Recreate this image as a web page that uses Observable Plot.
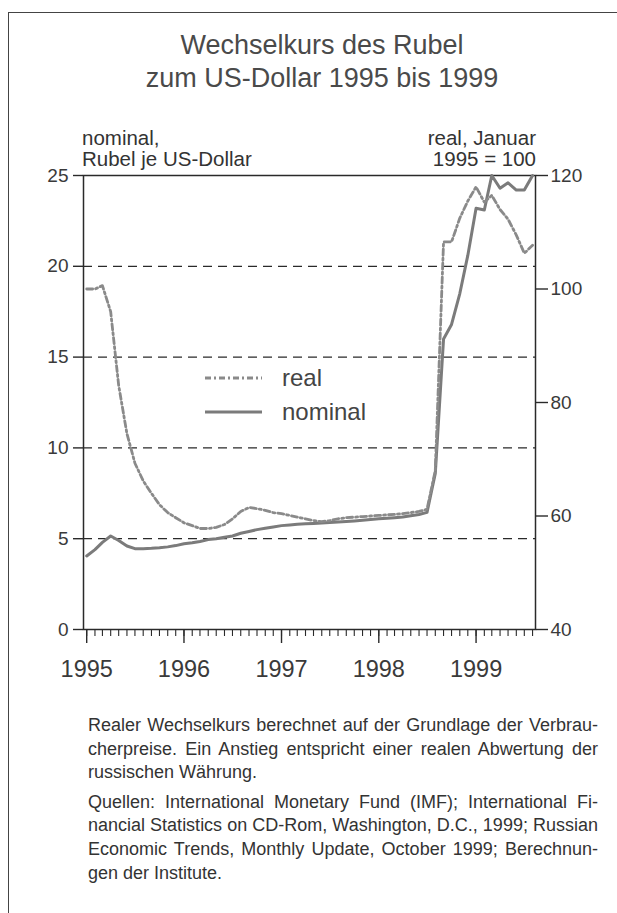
<!DOCTYPE html>
<html>
<head>
<meta charset="utf-8">
<script src="https://cdn.jsdelivr.net/npm/d3@7"></script>
<script src="https://cdn.jsdelivr.net/npm/@observablehq/plot@0.6"></script>
<style>
  html, body { margin: 0; padding: 0; background: #fff; }
  body { width: 617px; height: 913px; position: relative; overflow: hidden;
         font-family: "Liberation Sans", Arial, Helvetica, sans-serif; color: #3a3a3a; }
  .frame { position: absolute; left: 8px; top: 12px; width: 620px; height: 900px;
           border-left: 1.5px solid #444; border-top: 1.5px solid #444; }
  .title { position: absolute; left: 0px; width: 644px; top: 29px; text-align: center;
           font-size: 27px; line-height: 33px; color: #4a4a4a; }
  .ytitle { position: absolute; top: 127px; font-size: 20.5px; line-height: 21px; color: #333; white-space: nowrap; }
  #chart { position: absolute; left: 0; top: 165px; }
  .legend { position: absolute; left: 205px; font-size: 24px; color: #444; }
  .legend .row { position: absolute; left: 0; height: 30px; width: 220px; }
  .legend svg { position: absolute; left: 0; top: 0; }
  .legend span { position: absolute; left: 77px; top: 1px; line-height: 28px; white-space: nowrap; }
  .caption { position: absolute; left: 88px; width: 510px; font-size: 18px; line-height: 23.6px; color: #333; }
  .caption div { white-space: nowrap; }
</style>
</head>
<body>
<div class="frame"></div>
<div class="title">Wechselkurs des Rubel<br>zum US-Dollar 1995 bis 1999</div>
<div class="ytitle" style="left:82px;">nominal,<br>Rubel je US-Dollar</div>
<div class="ytitle" style="right:81px; text-align:right;">real, Januar<br>1995 = 100</div>
<div id="chart"></div>
<div class="legend" style="top:363px;">
  <div class="row" style="top:0;"><svg width="60" height="30"><line x1="0" x2="57" y1="15" y2="15" stroke="#8a8a8a" stroke-width="2.8" stroke-dasharray="6,3,2,3"/></svg><span>real</span></div>
  <div class="row" style="top:34px;"><svg width="60" height="30"><line x1="0" x2="57" y1="15" y2="15" stroke="#7b7b7b" stroke-width="3"/></svg><span>nominal</span></div>
</div>
<div class="caption" style="top:714px;">
  <div class="j">Realer Wechselkurs berechnet auf der Grundlage der Verbrau-</div>
  <div class="j">cherpreise. Ein Anstieg entspricht einer realen Abwertung der</div>
  <div>russischen Währung.</div>
  <div style="height:6px"></div>
  <div class="j">Quellen: International Monetary Fund (IMF); International Fi-</div>
  <div class="j">nancial Statistics on CD-Rom, Washington, D.C., 1999; Russian</div>
  <div class="j">Economic Trends, Monthly Update, October 1999; Berechnun-</div>
  <div>gen der Institute.</div>
</div>
<script>
// Monthly observations, January 1995 – August 1999
const nominal = [
  4.05, 4.40, 4.80, 5.15, 4.90, 4.60, 4.45, 4.45, 4.47, 4.50, 4.55, 4.62,
  4.72, 4.78, 4.85, 4.95, 5.00, 5.08, 5.15, 5.30, 5.40, 5.50, 5.58, 5.65,
  5.72, 5.76, 5.80, 5.82, 5.84, 5.86, 5.89, 5.92, 5.95, 5.98, 6.02, 6.06,
  6.10, 6.13, 6.16, 6.20, 6.26, 6.33, 6.45, 8.60, 16.0, 16.8, 18.5, 20.6,
  23.2, 23.1, 25.0, 24.3, 24.6, 24.2, 24.2, 25.0
];
const real = [
  100.0, 100.0, 100.6, 96.0, 83.0, 74.5, 69.3, 66.2, 64.0, 62.0, 60.6, 59.7,
  58.8, 58.3, 57.8, 57.8, 58.0, 58.5, 59.5, 60.8, 61.5, 61.3, 61.0, 60.6,
  60.4, 60.1, 59.8, 59.5, 59.2, 59.0, 59.2, 59.5, 59.7, 59.8, 59.9, 60.0,
  60.1, 60.2, 60.3, 60.4, 60.6, 60.8, 61.2, 68.0, 108.3, 108.3, 112.5, 115.5,
  118.0, 115.3, 116.5, 114.0, 112.3, 109.5, 106.3, 107.7
];
const months = d3.utcMonth.range(new Date(Date.UTC(1995, 0, 1)), new Date(Date.UTC(1999, 8, 1)));
const yearTicks = [1995, 1996, 1997, 1998, 1999];
const leftTicks = [0, 5, 10, 15, 20, 25];
const gridValues = [5, 10, 15, 20];
const rightTicks = [40, 60, 80, 100, 120];

const data = months.map((date, i) => ({date, nominal: nominal[i], real: real[i]}));
const realToLeft = r => (r - 40) * 25 / 80;

const ink = "#2a2a2a";
const chart = Plot.plot({
  width: 617,
  height: 515,
  marginTop: 10,
  marginBottom: 51,
  marginLeft: 83,
  marginRight: 82,
  style: {fontFamily: '"Liberation Sans", Arial, Helvetica, sans-serif', color: "#333", background: "transparent", overflow: "visible"},
  x: {type: "utc", domain: [new Date(Date.UTC(1994, 11, 20)), new Date(Date.UTC(1999, 7, 12))]},
  y: {domain: [0, 25]},
  marks: [
    Plot.ruleY(gridValues, {stroke: ink, strokeWidth: 1.2, strokeDasharray: "9,6"}),
    Plot.frame({stroke: ink, strokeWidth: 1.5}),
    Plot.axisX({ticks: months, tickSize: 7, tickFormat: () => "", stroke: ink, strokeWidth: 1.1}),
    Plot.axisX({ticks: yearTicks.map(y => new Date(Date.UTC(y, 0, 1))), tickSize: 14, tickPadding: 17,
                tickFormat: d3.utcFormat("%Y"), fontSize: 23.5, stroke: ink, strokeWidth: 1.4, fill: "#3a3a3a", label: null}),
    Plot.axisY({anchor: "left", ticks: leftTicks, tickSize: 10, tickPadding: 5, fontSize: 19,
                stroke: ink, strokeWidth: 1.4, fill: "#3a3a3a", label: null}),
    Plot.axisY({anchor: "right", ticks: rightTicks.map(realToLeft), tickSize: 12, tickPadding: 3, fontSize: 19,
                tickFormat: (d, i) => String(rightTicks[i]), stroke: ink, strokeWidth: 1.4, fill: "#3a3a3a", label: null}),
    Plot.line(data, {x: "date", y: "nominal", stroke: "#7b7b7b", strokeWidth: 3}),
    Plot.line(data, {x: "date", y: d => realToLeft(d.real), stroke: "#8a8a8a", strokeWidth: 2.8, strokeDasharray: "6,3,2,3"})
  ]
});
document.getElementById("chart").appendChild(chart);

// justify caption lines via word spacing (keeps the original line breaks)
const capWidth = 510;
document.querySelectorAll(".caption div").forEach(el => {
  const r = document.createRange();
  r.selectNodeContents(el);
  const w = r.getBoundingClientRect().width;
  if (w > capWidth) {
    el.style.letterSpacing = (-(w - capWidth) / el.textContent.length) + "px";
  } else if (el.classList.contains("j")) {
    const spaces = (el.textContent.match(/ /g) || []).length;
    if (spaces) el.style.wordSpacing = ((capWidth - w) / spaces) + "px";
  }
});
</script>
</body>
</html>
